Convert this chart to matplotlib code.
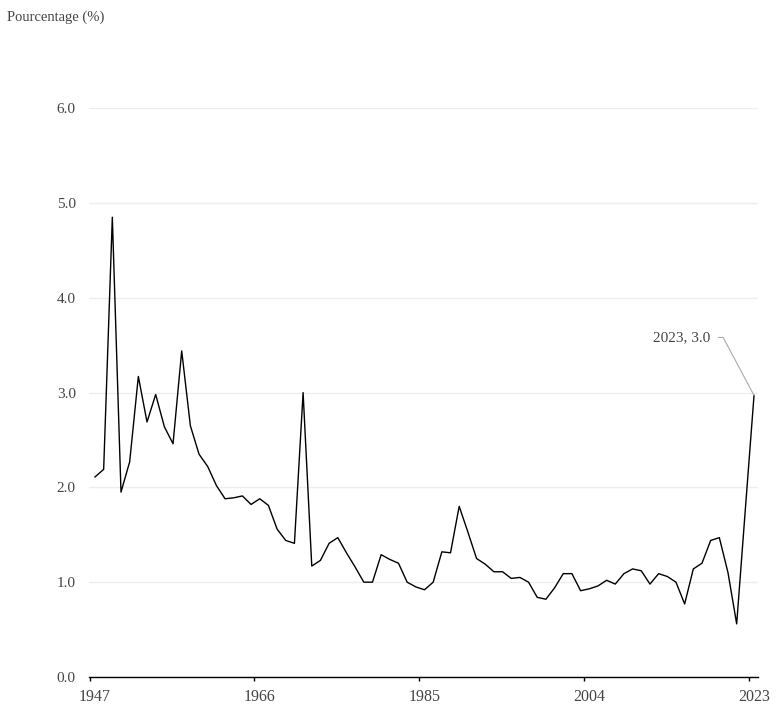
import matplotlib.pyplot as plt
import numpy as np

plt.rcParams['font.family'] = ['Liberation Serif', 'DejaVu Serif']

# valeurs (en %)
years = list(range(1947, 2024))
values = [
    2.11, 2.19, 4.85, 1.95, 2.27, 3.17, 2.69, 2.98, 2.64, 2.46,   # 1947-1956
    3.44, 2.65, 2.35, 2.22, 2.02, 1.88, 1.89, 1.91, 1.82, 1.88,   # 1957-1966
    1.81, 1.56, 1.44, 1.41, 3.00, 1.17, 1.23, 1.41, 1.47, 1.31,   # 1967-1976
    1.16, 1.00, 1.00, 1.29, 1.24, 1.20, 1.00, 0.95, 0.92, 1.00,   # 1977-1986
    1.32, 1.31, 1.80, 1.53, 1.25, 1.19, 1.11, 1.11, 1.04, 1.05,   # 1987-1996
    1.00, 0.84, 0.82, 0.94, 1.09, 1.09, 0.91, 0.93, 0.96, 1.02,   # 1997-2006
    0.98, 1.09, 1.14, 1.12, 0.98, 1.09, 1.06, 1.00, 0.77, 1.14,   # 2007-2016
    1.20, 1.44, 1.47, 1.10, 0.56, 1.77, 2.97,                     # 2017-2023
]
x_ticks = [1947, 1966, 1985, 2004, 2023]
y_ticks = [0, 1, 2, 3, 4, 5, 6]
y_label = 'Pourcentage (%)'
last_label = '2023, 3.0'

TXT = '#444444'
TICK_SHIFT = 0.62   # tick marks sit a bit left of the labelled year

fig = plt.figure(figsize=(7.79, 7.12), dpi=100)
ax = fig.add_axes([0.11425, 0.0492, 0.8588, 0.7988])

ax.plot(years, values, color='black', lw=1.0)

ax.set_xlim(1946.31, 2023.46)
ax.set_ylim(0, 6)

# tick marks (no label) + labels (no mark)
ax.set_xticks([y - TICK_SHIFT for y in x_ticks])
ax.set_xticklabels([])
ax.set_xticks(x_ticks, minor=True)
ax.set_xticklabels([str(y) for y in x_ticks], minor=True)
ax.set_yticks(y_ticks)
ax.set_yticklabels([f'{v:.1f}' for v in y_ticks])

ax.grid(axis='y', color='#eeeeee', lw=1.0)
ax.set_axisbelow(True)
for side in ['top', 'right', 'left']:
    ax.spines[side].set_visible(False)
ax.spines['bottom'].set_color('black')
ax.spines['bottom'].set_linewidth(1.0)
ax.tick_params(axis='x', which='major', length=3, width=1, color='black')
ax.tick_params(axis='x', which='minor', length=0, labelsize=11.5,
               labelcolor=TXT, pad=9)
ax.tick_params(axis='y', length=0, labelsize=11, labelcolor=TXT, pad=9.5)

ax.annotate(last_label, xy=(years[-1], values[-1]), xytext=(-44, 58),
            textcoords='offset pixels', ha='right', va='center',
            fontsize=11, color=TXT,
            arrowprops=dict(arrowstyle='-', color='#aaaaaa', lw=0.8,
                            shrinkA=4, shrinkB=0,
                            connectionstyle='angle,angleA=0,angleB=118,rad=0'))

fig.text(0.009, 1 - 17 / 712, y_label, ha='left', va='center',
         fontsize=10.5, color=TXT)

fig.savefig('out.png', dpi=100)
